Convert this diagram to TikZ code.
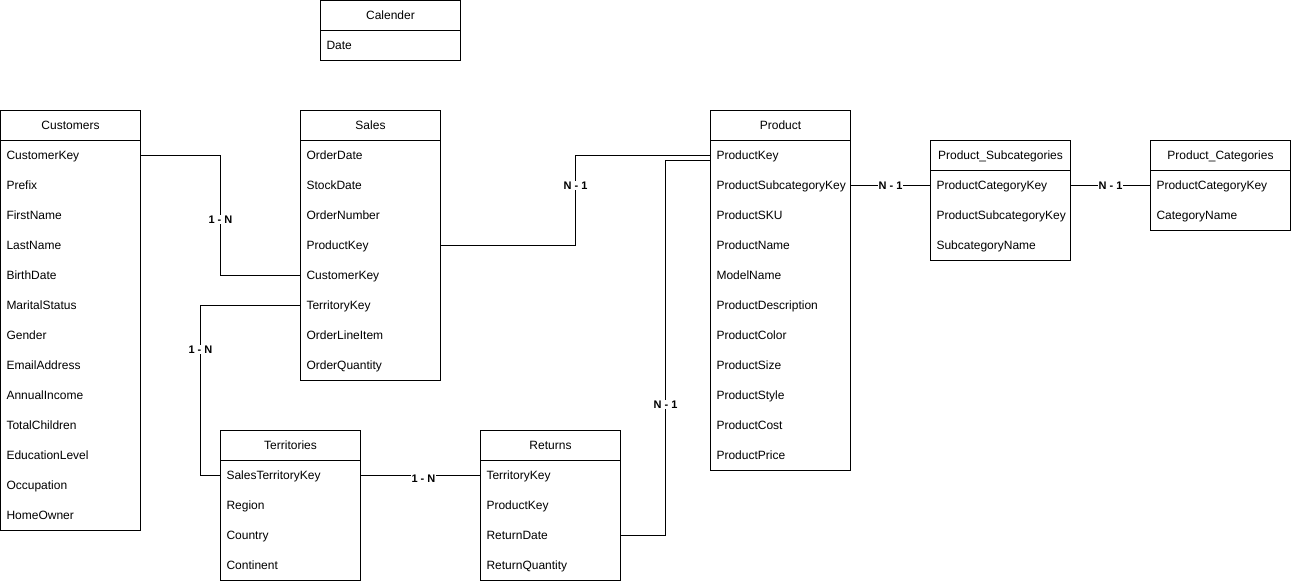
\documentclass[tikz,border=0pt]{standalone}
\usepackage{fontspec}
\setmainfont{Liberation Sans}
\usetikzlibrary{calc}

\tikzset{
  tableframe/.style={draw=black, line width=1pt, fill=white, minimum width=140pt,
    inner sep=0pt, outer sep=0pt},
  headcell/.style={minimum width=140pt, minimum height=30pt, inner xsep=6pt, inner ysep=0pt,
    outer sep=0pt, text width=128pt, align=center, text height=10.8pt, text depth=2.2pt,
    font=\fontsize{12}{14}\selectfont},
  rowcell/.style={minimum width=140pt, minimum height=30pt, inner xsep=6pt, inner ysep=0pt,
    outer sep=0pt, text width=128pt, align=left, text height=10.8pt, text depth=2.2pt,
    font=\fontsize{12}{14}\selectfont},
  link/.style={draw=black, line width=1pt},
  card/.style={fill=white, inner xsep=1pt, inner ysep=0.5pt, text height=8pt, text depth=0pt,
    font=\bfseries\fontsize{11}{13}\selectfont},
}

% #1 name, #2 x, #3 y, #4 title, #5 number of rows, #6 row texts
\newcommand{\erTable}[6]{%
  \node[tableframe, minimum height={30*(#5+1)}, anchor=north west] (#1) at (#2,#3) {};
  \node[headcell, anchor=north west] (#1-h) at (#2,#3) {#4};
  \draw[line width=1pt] (#1-h.south west) -- (#1-h.south east);
  \foreach \r [count=\i] in {#6} {
    \node[rowcell, anchor=north west] (#1-\i) at (#2,{#3+30*\i}) {\r};
  }%
}

\begin{document}
\begin{tikzpicture}[x=1pt, y=-1pt]
\useasboundingbox (0,0) rectangle (1291,582);

\erTable{cal}{320.5}{0.5}{Calender}{1}{Date}
\erTable{cust}{0.5}{110.5}{Customers}{13}{CustomerKey,Prefix,FirstName,LastName,BirthDate,MaritalStatus,Gender,EmailAddress,AnnualIncome,TotalChildren,EducationLevel,Occupation,HomeOwner}
\erTable{sales}{300.5}{110.5}{Sales}{8}{OrderDate,StockDate,OrderNumber,ProductKey,CustomerKey,TerritoryKey,OrderLineItem,OrderQuantity}
\erTable{prod}{710.5}{110.5}{Product}{11}{ProductKey,ProductSubcategoryKey,ProductSKU,ProductName,ModelName,ProductDescription,ProductColor,ProductSize,ProductStyle,ProductCost,ProductPrice}
\erTable{sub}{930.5}{140.5}{Product\_Subcategories}{3}{ProductCategoryKey,ProductSubcategoryKey,SubcategoryName}
\erTable{cat}{1150.5}{140.5}{Product\_Categories}{2}{ProductCategoryKey,CategoryName}
\erTable{terr}{220.5}{430.5}{Territories}{4}{SalesTerritoryKey,Region,Country,Continent}
\erTable{ret}{480.5}{430.5}{Returns}{4}{TerritoryKey,ProductKey,ReturnDate,ReturnQuantity}

% entry point on Product for the Returns link, just below the Sales link
\coordinate (prodIn) at ($(prod-1.west)+(0,5)$);

% relationships
\draw[link] (cust-1.east) -- ++(80,0) |- node[card, pos=0.267] {1 - N} (sales-5.west);
\draw[link] (sales-6.west) -- ++(-100,0) |- node[card, pos=0.13] {1 - N} (terr-1.west);
\draw[link] (sales-4.east) -- ++(135,0) |- node[card, pos=0.333] {N - 1} (prod-1.west);
\draw[link] (ret-3.east) -- ++(45,0) |- node[card, pos=0.175] {N - 1} (prodIn);
\draw[link] (terr-1.east) -- node[card, pos=0.525, yshift=-3pt] {1 - N} (ret-1.west);
\draw[link] (prod-2.east) -- node[card] {N - 1} (sub-1.west);
\draw[link] (sub-1.east) -- node[card] {N - 1} (cat-1.west);
\end{tikzpicture}
\end{document}
